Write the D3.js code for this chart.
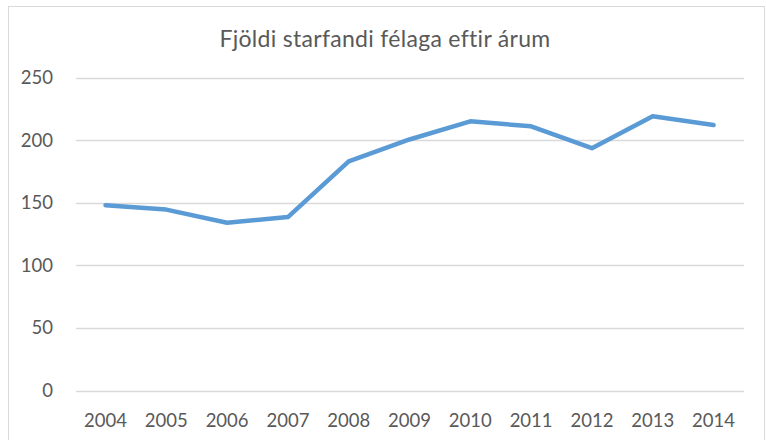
<!DOCTYPE html>
<html>
<head>
<meta charset="utf-8">
<script src="https://cdn.jsdelivr.net/npm/d3@7"></script>
<style>
  body { margin: 0; background: #fff; }
  text { font-family: Lato, "Open Sans", sans-serif; fill: #595959; }
</style>
</head>
<body>
<div id="chart"></div>
<script>
// data
var years = ["2004", "2005", "2006", "2007", "2008", "2009", "2010", "2011", "2012", "2013", "2014"];
var felog = [148, 144.5, 134, 138.5, 183, 200.5, 215, 211, 193.5, 219, 212];
var yTicks = [0, 50, 100, 150, 200, 250];
var title = "Fjöldi starfandi félaga eftir árum";

var width = 766, height = 440;
var margin = {left: 76, right: 22, top: 77, bottom: 50};

var svg = d3.select("#chart").append("svg")
    .attr("width", width)
    .attr("height", height);

// outer chart border
svg.append("rect")
    .attr("x", 8.5).attr("y", 6.5)
    .attr("width", 756).attr("height", 450)
    .attr("fill", "#fff")
    .attr("stroke", "#D9D9D9");

var x = d3.scalePoint()
    .domain(years)
    .range([105.5, 713.5]);

var y = d3.scaleLinear()
    .domain([0, 250])
    .range([390.5, 77.5]);

// gridlines
svg.append("g")
    .selectAll("line")
    .data(yTicks)
    .enter().append("line")
    .attr("x1", margin.left)
    .attr("x2", width - margin.right)
    .attr("y1", function (d) { return Math.round(y(d)) + 0.5; })
    .attr("y2", function (d) { return Math.round(y(d)) + 0.5; })
    .attr("stroke", "#D9D9D9")
    .attr("stroke-width", 1.3);

// y labels
svg.append("g")
    .selectAll("text")
    .data(yTicks)
    .enter().append("text")
    .attr("x", 53)
    .attr("y", function (d) { return y(d); })
    .attr("dy", "0.35em")
    .attr("text-anchor", "end")
    .style("font-size", "18.5px")
    .text(function (d) { return d; });

// x labels
svg.append("g")
    .selectAll("text")
    .data(years)
    .enter().append("text")
    .attr("x", function (d) { return x(d); })
    .attr("y", 427)
    .attr("text-anchor", "middle")
    .style("font-size", "18.5px")
    .text(function (d) { return d; });

var line = d3.line()
    .x(function (d, i) { return x(years[i]); })
    .y(function (d) { return y(d); });

svg.append("path")
    .datum(felog)
    .attr("d", line)
    .attr("fill", "none")
    .attr("stroke", "#5B9BD5")
    .attr("stroke-width", 4.5)
    .attr("stroke-linejoin", "round")
    .attr("stroke-linecap", "round");

svg.append("text")
    .attr("x", 385)
    .attr("y", 47)
    .attr("text-anchor", "middle")
    .style("font-size", "23px")
    .style("letter-spacing", "0.3px")
    .text(title);
</script>
</body>
</html>
